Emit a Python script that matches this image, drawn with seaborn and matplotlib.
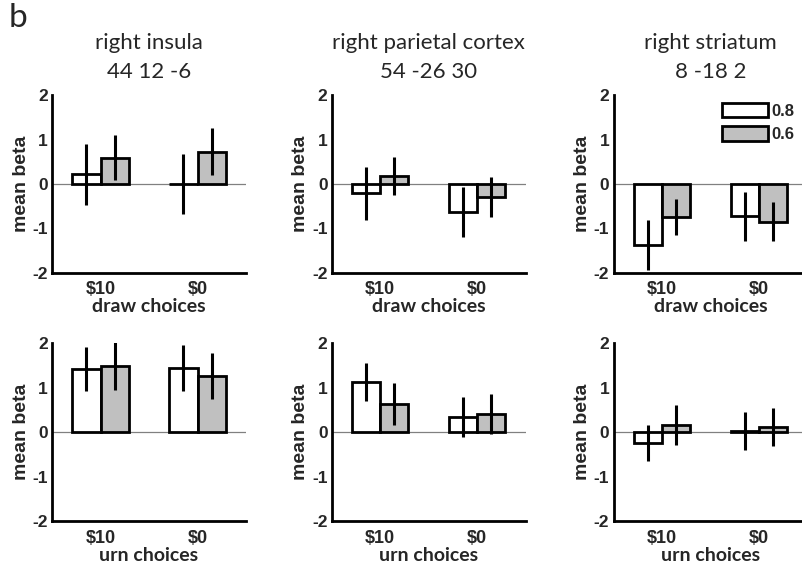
import seaborn as sns
import matplotlib.pyplot as plt
import matplotlib.patches as mpatches
import pandas as pd

# data: mean beta and half error bar per condition
payoffs = ['$10', '$0']
probs = ['0.8', '0.6']

regions = ['right insula\n44 12 -6', 'right parietal cortex\n54 -26 30', 'right striatum\n8 -18 2']

# draw choices (top row)
draw_08 = [[0.22, 0.00], [-0.21, -0.63], [-1.37, -0.72]]
draw_08_err = [[0.69, 0.67], [0.60, 0.57], [0.56, 0.55]]
draw_06 = [[0.59, 0.73], [0.18, -0.29], [-0.74, -0.85]]
draw_06_err = [[0.50, 0.52], [0.43, 0.45], [0.41, 0.44]]

# urn choices (bottom row)
urn_08 = [[1.42, 1.44], [1.13, 0.34], [-0.24, 0.03]]
urn_08_err = [[0.50, 0.52], [0.43, 0.45], [0.41, 0.43]]
urn_06 = [[1.49, 1.27], [0.64, 0.42], [0.17, 0.12]]
urn_06_err = [[0.53, 0.52], [0.47, 0.45], [0.45, 0.42]]

yticks = [2, 1, 0, -1, -2]
row_names = ['draw choices', 'urn choices']
gray = '#c0c0c0'

sns.set_style('white')
plt.rcParams['font.family'] = ['Liberation Sans', 'DejaVu Sans']
lato = ['Lato', 'DejaVu Sans']

fig = plt.figure(figsize=(8.02, 5.66), dpi=100)
W, H = 802, 566
lefts = [52, 331.7, 613.5]
tops = [95, 343.3]
aw, ah = 194, 178

rows = [(draw_08, draw_08_err, draw_06, draw_06_err),
        (urn_08, urn_08_err, urn_06, urn_06_err)]

for r, (m08, e08, m06, e06) in enumerate(rows):
    for c in range(3):
        ax = fig.add_axes([lefts[c] / W, 1 - (tops[r] + ah) / H, aw / W, ah / H])
        df = pd.DataFrame({
            'payoff': payoffs * 2,
            'prob': [probs[0]] * 2 + [probs[1]] * 2,
            'beta': m08[c] + m06[c],
        })
        ax.axhline(0, color='#808080', lw=0.9, zorder=0.5)
        sns.barplot(data=df, x='payoff', y='beta', hue='prob', order=payoffs,
                    hue_order=probs, palette={'0.8': 'white', '0.6': gray},
                    edgecolor='black', linewidth=2, width=0.58, gap=0,
                    errorbar=None, legend=False, ax=ax, zorder=2)
        # error bars centered on each bar
        for cont, means, errs in zip(ax.containers, [m08[c], m06[c]], [e08[c], e06[c]]):
            xs = [p.get_x() + p.get_width() / 2 for p in cont]
            ax.errorbar(xs, means, yerr=errs, fmt='none', ecolor='black',
                        elinewidth=2.2, capsize=0, zorder=3)
        ax.set_xlim(-0.5, 1.5)
        ax.set_ylim(-2, 2)
        ax.set_yticks(yticks)
        ax.set_yticklabels([str(v) for v in yticks], fontsize=12.5, fontweight='bold')
        ax.set_xticks(range(len(payoffs)))
        ax.set_xticklabels(payoffs, fontsize=13, fontweight='bold')
        sns.despine(ax=ax)
        for s in ['left', 'bottom']:
            ax.spines[s].set_linewidth(2)
            ax.spines[s].set_color('black')
        ax.tick_params(axis='y', length=0, pad=3)
        ax.tick_params(axis='x', length=0, pad=6)
        ax.set_ylabel('mean beta', fontsize=14, fontweight='bold', labelpad=2)
        ax.set_xlabel(row_names[r], fontsize=14, fontweight='bold',
                      family=lato, labelpad=0)
        if r == 0:
            ax.set_title(regions[c], fontsize=16, family=lato,
                         linespacing=1.6, pad=12)
        if r == 0 and c == 2:
            handles = [mpatches.Patch(facecolor='white', edgecolor='black', lw=2),
                       mpatches.Patch(facecolor=gray, edgecolor='black', lw=2)]
            ax.legend(handles, probs, loc='upper right', frameon=False,
                      handlelength=2.75, handleheight=0.95, handletextpad=0.2,
                      labelspacing=0.45, borderaxespad=0, borderpad=0,
                      bbox_to_anchor=(0.93, 0.955),
                      prop={'weight': 'bold', 'size': 12})

fig.text(0.011, 0.995, 'b', fontsize=24, va='top', family=lato)

plt.savefig('out.png', dpi=100)
